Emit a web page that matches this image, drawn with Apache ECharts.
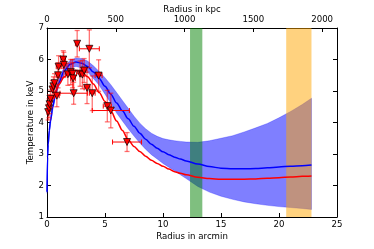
<!DOCTYPE html>
<html><head><meta charset="utf-8">
<script src="https://cdn.jsdelivr.net/npm/echarts@6/dist/echarts.min.js"></script>
<style>html,body{margin:0;padding:0;background:#fff}#c{width:374px;height:249px}</style>
</head><body><div id="c"></div>
<script>
// model curves (arcmin vs keV)
const arcmin  = [0,0.05,0.1,0.2,0.3,0.5,0.75,1,1.5,2,2.5,3,3.5,4,4.5,5,5.5,6,6.5,7,7.5,8,8.5,9,9.5,10,10.5,11,11.5,12,13,14,15,16,17,18,19,20,21,22,22.8];
const blueMid = [1.8,2.9,3.3,3.75,4.05,4.5,4.95,5.25,5.65,5.85,5.92,5.88,5.78,5.6,5.4,5.15,4.9,4.62,4.37,4.12,3.88,3.66,3.47,3.31,3.18,3.07,2.98,2.9,2.84,2.78,2.68,2.6,2.55,2.53,2.53,2.54,2.56,2.59,2.61,2.63,2.65];
const blueUp  = [1.85,2.98,3.4,3.85,4.15,4.6,5.05,5.37,5.78,5.98,6.05,6.03,5.95,5.8,5.62,5.42,5.2,4.95,4.7,4.45,4.2,3.98,3.8,3.66,3.56,3.49,3.45,3.42,3.4,3.38,3.37,3.42,3.5,3.58,3.7,3.83,3.97,4.15,4.35,4.57,4.77];
const blueLow = [1.75,2.82,3.2,3.65,3.95,4.4,4.85,5.13,5.52,5.72,5.78,5.73,5.6,5.4,5.18,4.9,4.62,4.3,4.05,3.8,3.57,3.35,3.15,2.98,2.84,2.7,2.58,2.47,2.34,2.22,1.97,1.79,1.66,1.56,1.48,1.42,1.37,1.33,1.3,1.27,1.24];
const redFit  = [4.25,4.3,4.35,4.45,4.55,4.75,5.0,5.2,5.45,5.62,5.66,5.6,5.45,5.22,4.95,4.67,4.37,4.05,3.75,3.45,3.24,3.08,2.93,2.8,2.7,2.61,2.52,2.44,2.39,2.34,2.26,2.22,2.2,2.2,2.2,2.21,2.23,2.25,2.27,2.29,2.3];
// measured points
const ptX    = [0.1,0.17,0.22,0.3,0.47,0.55,0.65,0.85,0.95,1.0,1.4,1.45,1.8,2.05,2.2,2.25,2.3,2.6,2.85,3.05,3.2,3.45,3.65,3.9,4.45,5.2,5.5,6.9];
const ptY    = [4.33,4.45,4.58,4.75,5.05,5.15,5.25,4.85,5.5,5.77,6.0,5.83,5.53,5.6,5.55,5.4,4.93,6.5,5.55,5.52,5.65,5.1,6.34,4.93,5.49,4.52,4.38,3.38];
const ptXErr = [0.08,0.08,0.1,0.1,0.1,0.12,0.12,0.2,0.15,0.2,0.2,0.2,0.2,0.2,0.15,0.2,1.18,0.15,0.3,0.2,0.25,0.25,0.86,0.25,0.3,0.35,1.6,1.25];
const ptYErr = [0.25,0.3,0.3,0.28,0.28,0.3,0.3,0.35,0.4,0.35,0.28,0.4,0.35,0.4,0.45,0.5,0.35,0.42,0.4,0.45,0.38,0.5,0.6,0.55,0.5,0.5,0.55,0.3];
// shaded radial ranges (arcmin)
const spanGreen = [12.33, 13.39];
const spanOrange = [20.62, 22.8];
// axis ticks
const xTicks = {min:0, max:25, step:5};
const kpcTicks = {min:0, max:2108, step:500};
const yTicks = {min:1, max:7, step:1};

const FONT = 'DejaVu Sans';
const FS = 8.6;
const zip = (a,b) => a.map((v,i)=>[v,b[i]]);

function axisCommon(extra){
  return Object.assign({
    splitLine:{show:false},
    axisLine:{show:true, onZero:false, lineStyle:{color:'#000', width:1}},
    axisTick:{show:true, inside:true, length:4, lineStyle:{color:'#000'}},
    axisLabel:{color:'#000', fontFamily:FONT, fontSize:FS, margin:3},
    nameTextStyle:{color:'#000', fontFamily:FONT, fontSize:FS},
    nameLocation:'middle',
    nameMoveOverlap:false
  }, extra);
}

const chart = echarts.init(document.getElementById('c'), null, {renderer:'canvas'});
chart.setOption({
  animation:false,
  backgroundColor:'#fff',
  grid:{left:47, right:37, top:24.5, bottom:32, containLabel:false},
  xAxis:[
    axisCommon({type:'value', position:'bottom', min:xTicks.min, max:xTicks.max, interval:xTicks.step, name:'Radius in arcmin', nameGap:15}),
    axisCommon({type:'value', position:'top', min:kpcTicks.min, max:kpcTicks.max, interval:kpcTicks.step, name:'Radius in kpc', nameGap:14,
      axisLabel:{color:'#000', fontFamily:FONT, fontSize:FS, margin:4, formatter:v => (v % 500 === 0 ? String(v) : '')}})
  ],
  yAxis:[
    axisCommon({type:'value', position:'left', min:yTicks.min, max:yTicks.max, interval:yTicks.step, name:'Temperature in keV', nameGap:12}),
    axisCommon({type:'value', position:'right', min:yTicks.min, max:yTicks.max, interval:yTicks.step, axisLabel:{show:false}})
  ],
  series:[
    { type:'custom', z:1, xAxisIndex:0, yAxisIndex:0, data:[[0,1]], silent:true,
      renderItem:(params, api) => {
        const pts = [];
        for (let i=0;i<arcmin.length;i++) pts.push(api.coord([arcmin[i], blueUp[i]]));
        for (let i=arcmin.length-1;i>=0;i--) pts.push(api.coord([arcmin[i], blueLow[i]]));
        return {type:'polygon', shape:{points:pts}, style:{fill:'rgba(0,0,255,0.5)', stroke:'rgba(0,0,255,0.5)', lineWidth:0.5}};
      }},
    { type:'custom', z:2, xAxisIndex:0, yAxisIndex:0, data:[spanGreen, spanOrange], silent:true,
      renderItem:(params, api) => {
        const p0 = api.coord([api.value(0), yTicks.max]);
        const p1 = api.coord([api.value(1), yTicks.min]);
        const col = params.dataIndex === 0 ? 'rgba(0,128,0,0.5)' : 'rgba(255,165,0,0.5)';
        return {type:'rect', shape:{x:p0[0], y:p0[1], width:p1[0]-p0[0], height:p1[1]-p0[1]}, style:{fill:col}};
      }},
    { type:'line', z:3, data:zip(arcmin, blueMid), showSymbol:false, smooth:0.3, smoothMonotone:'x', lineStyle:{color:'#0000ff', width:1.5}, silent:true },
    { type:'line', z:3, data:zip(arcmin, redFit), showSymbol:false, smooth:0.3, smoothMonotone:'x', lineStyle:{color:'#ff0000', width:1.5}, silent:true },
    { type:'custom', z:4, xAxisIndex:0, yAxisIndex:0, silent:true,
      data: ptX.map((x,i)=>[x, ptY[i], ptXErr[i], ptYErr[i]]),
      renderItem:(params, api) => {
        const x = api.value(0), y = api.value(1), ex = api.value(2), ey = api.value(3);
        const l = api.coord([x-ex, y]), r = api.coord([x+ex, y]);
        const t = api.coord([x, y+ey]), b = api.coord([x, y-ey]);
        const cap = 2.5;
        const vs = {stroke:'rgba(255,0,0,0.55)', lineWidth:1.3};
        const hs = {stroke:'#ff0000', lineWidth:1};
        return {type:'group', children:[
          {type:'line', shape:{x1:t[0], y1:t[1], x2:b[0], y2:b[1]}, style:vs},
          {type:'line', shape:{x1:t[0]-cap, y1:t[1], x2:t[0]+cap, y2:t[1]}, style:vs},
          {type:'line', shape:{x1:b[0]-cap, y1:b[1], x2:b[0]+cap, y2:b[1]}, style:vs},
          {type:'line', shape:{x1:l[0], y1:l[1], x2:r[0], y2:r[1]}, style:hs},
          {type:'line', shape:{x1:l[0], y1:l[1]-cap, x2:l[0], y2:l[1]+cap}, style:hs},
          {type:'line', shape:{x1:r[0], y1:r[1]-cap, x2:r[0], y2:r[1]+cap}, style:hs}
        ]};
      }},
    { type:'scatter', z:5, data:zip(ptX, ptY), symbol:'triangle', symbolRotate:180, symbolSize:7,
      itemStyle:{color:'#ff0000', borderColor:'#000', borderWidth:0.7, opacity:1}, silent:true }
  ]
});
</script></body></html>
